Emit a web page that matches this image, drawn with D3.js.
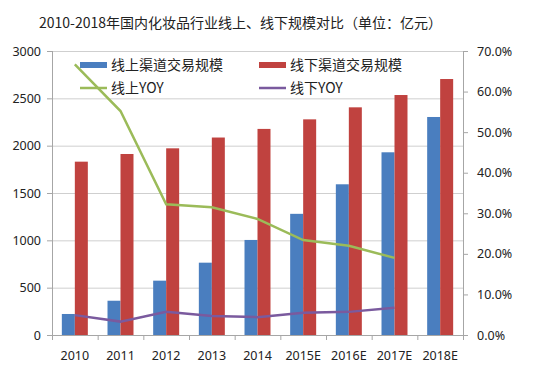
<!DOCTYPE html>
<meta charset="utf-8">
<style>
body { margin: 0; background: #fff; }
.title { font-family: "Noto Sans CJK SC"; font-size: 14px; fill: #222; }
.tick text { font-family: "Noto Sans", sans-serif; font-size: 12.5px; fill: #222; }
.legend text { font-family: "Noto Sans CJK SC"; font-size: 14px; fill: #222; }
.grid line { stroke: #cfcfcf; }
</style>
<svg width="550" height="369"></svg>
<script src="https://d3js.org/d3.v7.min.js"></script>
<script>

var years = ["2010", "2011", "2012", "2013", "2014", "2015E", "2016E", "2017E", "2018E"];
var online = [222, 362, 574, 764, 1004, 1280, 1592, 1930, 2303];
var offline = [1831, 1912, 1972, 2086, 2177, 2278, 2405, 2535, 2704];
var onlineYoy = [0.667, 0.552, 0.322, 0.315, 0.286, 0.234, 0.220, 0.190];
var offlineYoy = [0.049, 0.033, 0.057, 0.047, 0.044, 0.055, 0.057, 0.067];
var leftTicks = [0, 500, 1000, 1500, 2000, 2500, 3000];
var rightTicks = [0, 0.1, 0.2, 0.3, 0.4, 0.5, 0.6, 0.7];

var svg = d3.select("svg"),
    plotLeft = 52, plotRight = 463, plotTop = 51, plotBottom = 335;

var colors = { blue: "#4a7ebf", red: "#c0423f", green: "#9bbb59", purple: "#7a5a9e" };

var x = d3.scaleBand().domain(years).range([plotLeft, plotRight]);
var xi = d3.scaleBand().domain(["on", "off"]).range([0, x.bandwidth()]).paddingOuter(0.757);
var y = d3.scaleLinear().domain([0, 3000]).range([plotBottom, plotTop]);
var y2 = d3.scaleLinear().domain([0, 0.7]).range([plotBottom, plotTop]);

svg.append("text")
    .attr("class", "title")
    .attr("x", 39)
    .attr("y", 28)
    .text("2010-2018年国内化妆品行业线上、线下规模对比（单位：亿元）");

// gridlines
svg.append("g")
    .attr("class", "grid")
    .selectAll("line")
    .data(leftTicks.slice(1))
    .enter().append("line")
    .attr("x1", plotLeft).attr("x2", plotRight)
    .attr("y1", function(d) { return y(d) + 0.5; })
    .attr("y2", function(d) { return y(d) + 0.5; });

// bars
var groups = svg.append("g")
    .selectAll("g")
    .data(years)
    .enter().append("g")
    .attr("transform", function(d) { return "translate(" + x(d) + ",0)"; });

groups.append("rect")
    .attr("x", xi("on"))
    .attr("width", xi.bandwidth())
    .attr("y", function(d, i) { return y(online[i]); })
    .attr("height", function(d, i) { return plotBottom - y(online[i]); })
    .attr("fill", colors.blue);

groups.append("rect")
    .attr("x", xi("off"))
    .attr("width", xi.bandwidth())
    .attr("y", function(d, i) { return y(offline[i]); })
    .attr("height", function(d, i) { return plotBottom - y(offline[i]); })
    .attr("fill", colors.red);

// lines
var line = d3.line()
    .x(function(d, i) { return x(years[i]) + x.bandwidth() / 2; })
    .y(function(d) { return y2(d); });

svg.append("path")
    .datum(onlineYoy)
    .attr("d", line)
    .attr("fill", "none")
    .attr("stroke", colors.green)
    .attr("stroke-width", 2.5);

svg.append("path")
    .datum(offlineYoy)
    .attr("d", line)
    .attr("fill", "none")
    .attr("stroke", colors.purple)
    .attr("stroke-width", 2.5);

// axes
var axisColor = "#a6a6a6";

var yAxis = svg.append("g")
    .attr("transform", "translate(" + plotLeft + ",0)")
    .call(d3.axisLeft(y).tickValues(leftTicks).tickSize(5).tickPadding(6)
        .tickFormat(d3.format("d")));

var y2Axis = svg.append("g")
    .attr("transform", "translate(" + plotRight + ",0)")
    .call(d3.axisRight(y2).tickValues(rightTicks).tickSize(5).tickPadding(9)
        .tickFormat(d3.format(".1%")));

var xAxis = svg.append("g")
    .attr("transform", "translate(0," + plotBottom + ")")
    .call(d3.axisBottom(x).tickSize(0).tickPadding(16));

[yAxis, y2Axis, xAxis].forEach(function(a) {
  a.selectAll("line").attr("stroke", axisColor);
  a.select(".domain").remove();
});

// category separators on x axis
svg.append("g")
    .selectAll("line")
    .data(d3.range(years.length + 1))
    .enter().append("line")
    .attr("x1", function(i) { return plotLeft + i * x.step() + 0.5; })
    .attr("x2", function(i) { return plotLeft + i * x.step() + 0.5; })
    .attr("y1", plotBottom)
    .attr("y2", plotBottom + 5)
    .attr("stroke", axisColor);

svg.append("line").attr("x1", plotLeft + 0.5).attr("x2", plotLeft + 0.5)
    .attr("y1", plotTop).attr("y2", plotBottom).attr("stroke", axisColor);
svg.append("line").attr("x1", plotRight + 0.5).attr("x2", plotRight + 0.5)
    .attr("y1", plotTop).attr("y2", plotBottom).attr("stroke", axisColor);
svg.append("line").attr("x1", plotLeft).attr("x2", plotRight)
    .attr("y1", plotBottom + 0.5).attr("y2", plotBottom + 0.5).attr("stroke", axisColor);

// legend
var legendItems = [
  { label: "线上渠道交易规模", color: colors.blue, type: "rect", x: 80, y: 65 },
  { label: "线下渠道交易规模", color: colors.red, type: "rect", x: 259, y: 65 },
  { label: "线上YOY", color: colors.green, type: "line", x: 80, y: 88 },
  { label: "线下YOY", color: colors.purple, type: "line", x: 259, y: 88 }
];

var legend = svg.append("g").attr("class", "legend")
    .selectAll("g")
    .data(legendItems)
    .enter().append("g")
    .attr("transform", function(d) { return "translate(" + d.x + "," + d.y + ")"; });

legend.filter(function(d) { return d.type === "rect"; })
    .append("rect")
    .attr("x", 0).attr("y", -3).attr("width", 27).attr("height", 6)
    .attr("fill", function(d) { return d.color; });

legend.filter(function(d) { return d.type === "line"; })
    .append("line")
    .attr("x1", 0).attr("x2", 27).attr("y1", 0).attr("y2", 0)
    .attr("stroke", function(d) { return d.color; })
    .attr("stroke-width", 2.5);

legend.append("text")
    .attr("x", 31)
    .attr("y", 5)
    .text(function(d) { return d.label; });

</script>
